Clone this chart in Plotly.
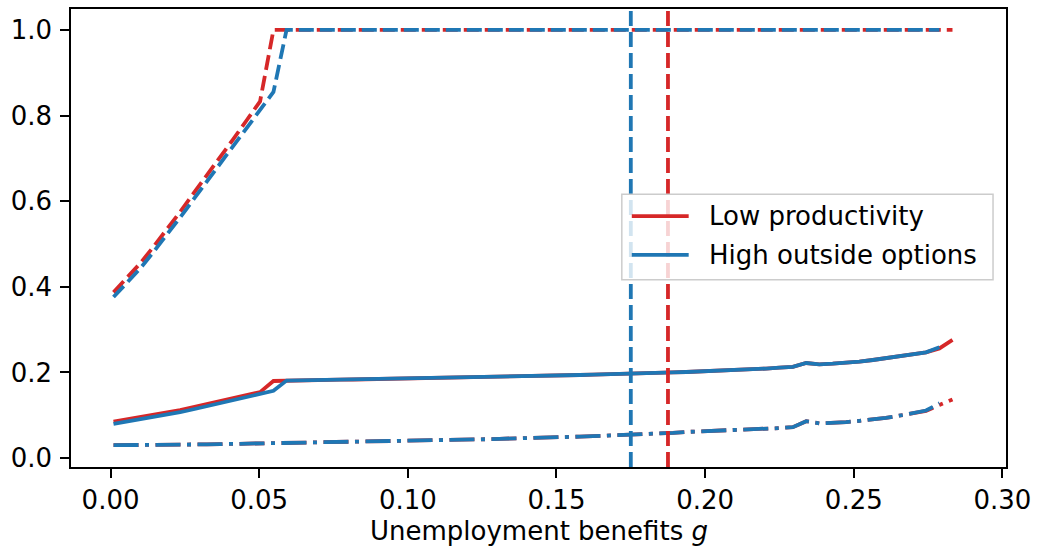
import plotly.graph_objects as go

# Unemployment benefit grid
g = [0.0010, 0.0055, 0.0100, 0.0144, 0.0189, 0.0234, 0.0279, 0.0324, 0.0368, 0.0413,
     0.0458, 0.0503, 0.0548, 0.0592, 0.0637, 0.0682, 0.0727, 0.0772, 0.0816, 0.0861,
     0.0906, 0.0951, 0.0996, 0.1040, 0.1085, 0.1130, 0.1175, 0.1220, 0.1264, 0.1309,
     0.1354, 0.1399, 0.1444, 0.1488, 0.1533, 0.1578, 0.1623, 0.1668, 0.1712, 0.1757,
     0.1802, 0.1847, 0.1892, 0.1936, 0.1981, 0.2026, 0.2071, 0.2116, 0.2160, 0.2205,
     0.2250, 0.2295, 0.2340, 0.2384, 0.2429, 0.2474, 0.2519, 0.2564, 0.2608, 0.2653,
     0.2698, 0.2743, 0.2788, 0.2832]

# Low productivity scenario (red)
low_upper = [0.387, 0.420, 0.455, 0.493, 0.533, 0.575, 0.618, 0.660, 0.702, 0.745,
             0.789, 0.833, 1.0, 1.0, 1.0, 1.0, 1.0, 1.0, 1.0, 1.0,
             1.0, 1.0, 1.0, 1.0, 1.0, 1.0, 1.0, 1.0, 1.0, 1.0,
             1.0, 1.0, 1.0, 1.0, 1.0, 1.0, 1.0, 1.0, 1.0, 1.0,
             1.0, 1.0, 1.0, 1.0, 1.0, 1.0, 1.0, 1.0, 1.0, 1.0,
             1.0, 1.0, 1.0, 1.0, 1.0, 1.0, 1.0, 1.0, 1.0, 1.0,
             1.0, 1.0, 1.0, 1.0]
low_mid = [0.085, 0.090, 0.095, 0.100, 0.106, 0.112, 0.119, 0.126, 0.133, 0.140,
           0.147, 0.154, 0.180, 0.181, 0.1815, 0.182, 0.1825, 0.183, 0.1835, 0.184,
           0.1845, 0.185, 0.1855, 0.186, 0.187, 0.1875, 0.188, 0.1885, 0.189, 0.190,
           0.1905, 0.191, 0.192, 0.1925, 0.193, 0.194, 0.195, 0.1955, 0.196, 0.197,
           0.198, 0.199, 0.200, 0.201, 0.202, 0.203, 0.205, 0.206, 0.207, 0.209,
           0.211, 0.213, 0.222, 0.219, 0.2205, 0.222, 0.225, 0.229, 0.233, 0.237,
           0.242, 0.247, 0.256, 0.276]
low_lower = [0.030, 0.030, 0.0305, 0.031, 0.031, 0.0315, 0.032, 0.032, 0.0325, 0.033,
             0.033, 0.0335, 0.035, 0.035, 0.0355, 0.036, 0.0365, 0.037, 0.0375, 0.038,
             0.0385, 0.039, 0.040, 0.0405, 0.041, 0.042, 0.0425, 0.043, 0.044, 0.045,
             0.0455, 0.046, 0.047, 0.048, 0.049, 0.050, 0.051, 0.052, 0.054, 0.055,
             0.057, 0.058, 0.059, 0.061, 0.062, 0.063, 0.064, 0.066, 0.067, 0.068,
             0.070, 0.072, 0.086, 0.081, 0.082, 0.084, 0.087, 0.090, 0.094, 0.099,
             0.104, 0.110, 0.124, 0.137]

# High outside options scenario (blue)
high_upper = [0.376, 0.408, 0.443, 0.481, 0.520, 0.562, 0.604, 0.646, 0.688, 0.730,
              0.773, 0.815, 0.855, 1.0, 1.0, 1.0, 1.0, 1.0, 1.0, 1.0,
              1.0, 1.0, 1.0, 1.0, 1.0, 1.0, 1.0, 1.0, 1.0, 1.0,
              1.0, 1.0, 1.0, 1.0, 1.0, 1.0, 1.0, 1.0, 1.0, 1.0,
              1.0, 1.0, 1.0, 1.0, 1.0, 1.0, 1.0, 1.0, 1.0, 1.0,
              1.0, 1.0, 1.0, 1.0, 1.0, 1.0, 1.0, 1.0, 1.0, 1.0,
              1.0, 1.0, 1.0]
high_mid = [0.080, 0.085, 0.090, 0.095, 0.101, 0.107, 0.114, 0.121, 0.128, 0.135,
            0.142, 0.149, 0.157, 0.181, 0.1815, 0.182, 0.1825, 0.183, 0.1835, 0.184,
            0.1845, 0.185, 0.1855, 0.186, 0.187, 0.1875, 0.188, 0.1885, 0.189, 0.190,
            0.1905, 0.191, 0.192, 0.1925, 0.193, 0.194, 0.195, 0.1955, 0.196, 0.197,
            0.198, 0.199, 0.200, 0.201, 0.202, 0.203, 0.205, 0.206, 0.207, 0.209,
            0.211, 0.213, 0.222, 0.219, 0.2205, 0.222, 0.225, 0.229, 0.233, 0.237,
            0.242, 0.247, 0.259]
high_lower = [0.030, 0.030, 0.0305, 0.031, 0.031, 0.0315, 0.032, 0.032, 0.0325, 0.033,
              0.033, 0.0335, 0.034, 0.035, 0.0355, 0.036, 0.0365, 0.037, 0.0375, 0.038,
              0.0385, 0.039, 0.040, 0.0405, 0.041, 0.042, 0.0425, 0.043, 0.044, 0.045,
              0.0455, 0.046, 0.047, 0.048, 0.049, 0.050, 0.051, 0.052, 0.054, 0.055,
              0.057, 0.058, 0.059, 0.061, 0.062, 0.063, 0.064, 0.066, 0.067, 0.068,
              0.070, 0.072, 0.086, 0.081, 0.082, 0.084, 0.087, 0.090, 0.094, 0.099,
              0.104, 0.111, 0.128]

# Critical benefit levels
thresholds = [0.1875, 0.175]

scenario_names = ["Low productivity", "High outside options"]
RED = "#d62728"
BLUE = "#1f77b4"
colors = [RED, BLUE]

x_ticks = [0.00, 0.05, 0.10, 0.15, 0.20, 0.25, 0.30]
y_ticks = [0.0, 0.2, 0.4, 0.6, 0.8, 1.0]

W, H = 1038, 548
L, R, T, B = 71, 30, 7, 81
PW, PH = W - L - R, H - T - B

FONT = "DejaVu Sans"
FS = 26
LW = 3.8
DASH = "15px,6px"
DASHDOT = "25px,6.5px,4px,6.5px"


def px_x(p):
    return (p - L) / PW


def px_y(p):
    return (H - B - p) / PH


fig = go.Figure()

series = [
    (g, low_upper, low_mid, low_lower, RED),
    (g[:len(high_upper)], high_upper, high_mid, high_lower, BLUE),
]
for xs, up, mid, lo, col in series:
    fig.add_trace(go.Scatter(x=xs, y=up, mode="lines", showlegend=False,
                             line=dict(color=col, width=LW, dash=DASH)))
    fig.add_trace(go.Scatter(x=xs, y=mid, mode="lines", showlegend=False,
                             line=dict(color=col, width=LW)))
    fig.add_trace(go.Scatter(x=xs, y=lo, mode="lines", showlegend=False,
                             line=dict(color=col, width=LW, dash=DASHDOT)))

shapes = []
for xv, col in zip(thresholds, colors):
    shapes.append(dict(type="line", xref="x", yref="paper", x0=xv, x1=xv, y0=0, y1=1,
                       line=dict(color=col, width=LW, dash=DASH), layer="above"))

# legend box
shapes.append(dict(type="rect", xref="paper", yref="paper",
                   x0=px_x(623), x1=px_x(995), y0=px_y(279), y1=px_y(193),
                   fillcolor="rgba(255,255,255,0.8)",
                   line=dict(color="#cccccc", width=1.5), layer="above"))
annotations = []
for i, (name, col) in enumerate(zip(scenario_names, colors)):
    yy = 215 + i * 39
    shapes.append(dict(type="line", xref="paper", yref="paper",
                       x0=px_x(633), x1=px_x(690), y0=px_y(yy), y1=px_y(yy),
                       line=dict(color=col, width=LW), layer="above"))
    annotations.append(dict(xref="paper", yref="paper", x=px_x(708), y=px_y(yy),
                            text=name, showarrow=False, xanchor="left", yanchor="middle",
                            font=dict(family=FONT, size=FS, color="black")))

annotations.append(dict(xref="paper", yref="paper", x=0.5, y=px_y(531),
                        text="Unemployment benefits <i>g</i>", showarrow=False,
                        xanchor="center", yanchor="middle",
                        font=dict(family=FONT, size=FS, color="black")))

axis_common = dict(showgrid=False, zeroline=False, showline=True, mirror=True,
                   linecolor="black", linewidth=1.6, ticks="outside", ticklen=9,
                   tickwidth=1.6, tickcolor="black",
                   tickfont=dict(family=FONT, size=FS, color="black"))

fig.update_layout(
    width=W, height=H, autosize=False,
    margin=dict(l=L, r=R, t=T, b=B),
    plot_bgcolor="white", paper_bgcolor="white",
    font=dict(family=FONT, size=FS, color="black"),
    xaxis=dict(range=[-0.0133, 0.3012], tickvals=x_ticks,
               ticktext=[f"{v:.2f}" for v in x_ticks], **axis_common),
    yaxis=dict(range=[-0.0209, 1.0488], tickvals=y_ticks, ticklabelstandoff=3,
               ticktext=[f"{v:.1f}" for v in y_ticks], **axis_common),
    shapes=shapes,
    annotations=annotations,
    showlegend=False,
)

fig.write_html("out.html")
